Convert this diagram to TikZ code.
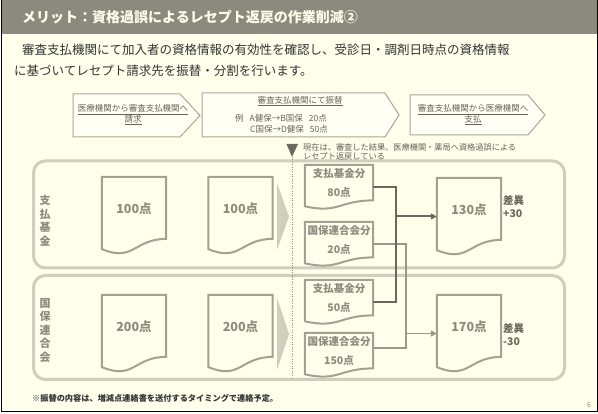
\documentclass[tikz,border=0pt]{standalone}
\usepackage{fontspec}
\setmainfont{Noto Sans CJK JP}
\usetikzlibrary{arrows.meta,calc}
\definecolor{bgcream}{HTML}{FFFFEB}
\definecolor{hdrgray}{HTML}{8C8A7F}
\definecolor{panelln}{HTML}{D0CEBC}
\definecolor{docln}{HTML}{A3A193}
\definecolor{doctxt}{HTML}{8E8B7F}
\definecolor{darkln}{HTML}{6C685E}
\definecolor{lightln}{HTML}{9B988B}
\definecolor{chevln}{HTML}{A9A697}
\definecolor{chevtxt}{HTML}{66635A}
\newcommand{\fsz}[2]{\fontsize{#1}{#2}\selectfont}
\newcommand{\docoutline}[1]{%
  \draw[docln, line width=2pt, fill=bgcream] (#1.north west) -- (#1.north east) -- ($(#1.north east)!0.802!(#1.south east)$)
    .. controls ($(#1.north)!0.802!(#1.south)$) and ($(#1.north)!1.107!(#1.south)$) .. ($(#1.north west)!0.934!(#1.south west)$) -- cycle;}

\begin{document}
\begin{tikzpicture}[x=1pt, y=-1pt, >={Triangle[length=6pt, width=6pt]},
  hdr/.style={font=\fsz{14}{16}\bfseries, text=white!92!yellow, anchor=west, inner sep=0},
  body/.style={font=\fsz{12.5}{15}, text=black!80, anchor=west, inner sep=0},
  chev/.style={draw=chevln, line width=1pt, fill=white!50!bgcream},
  chevtext/.style={font=\fsz{8.5}{10.5}, text=chevtxt, inner sep=0, align=center},
  note/.style={font=\fsz{8.2}{9}, text=chevtxt, anchor=west, inner sep=0},
  bigdoc/.style={minimum width=64pt, minimum height=77pt, inner sep=0},
  smalldoc/.style={minimum width=68pt, minimum height=44pt, inner sep=0},
  bigval/.style={font=\fsz{12.5}{14}\bfseries, text=doctxt, inner sep=0},
  smallval/.style={font=\fsz{10.5}{12}\bfseries, text=doctxt, inner sep=0},
  side/.style={font=\fsz{11}{13.5}\bfseries, text=doctxt, align=center, inner sep=0},
  diff/.style={font=\fsz{10.5}{13}\bfseries, text=darkln, anchor=west, inner sep=0, align=left},
  panel/.style={draw=panelln, line width=3pt, rounded corners=12pt}]
  \useasboundingbox (0,0) rectangle (598,414);
  \fill[white] (0,0) rectangle (598,414);
  \fill[bgcream] (1,0) rectangle (597,412);
  \fill[hdrgray] (1,0) rectangle (597,34);
  \draw[black, line width=1pt] (1,0) -- (1,412) -- (597,412) -- (597,0);
  \node[hdr] (title) at (22,17) {メリット：資格過誤によるレセプト返戻の作業削減②};
  \node[body] (intro1) at (22,50) {審査支払機関にて加入者の資格情報の有効性を確認し、受診日・調剤日時点の資格情報};
  \node[body] (intro2) at (14,71) {に基づいてレセプト請求先を振替・分割を行います。};

  \draw[chev] (73,94) -- (180,94) -- (200,115.5) -- (180,137) -- (73,137) -- cycle;
  \draw[chev] (202,93) -- (385,93) -- (399,115) -- (385,137) -- (202,137) -- cycle;
  \draw[chev] (410,95) -- (528,95) -- (545,115) -- (528,135) -- (410,135) -- cycle;
  \node[chevtext] (claim) at (133,115) {\underline{医療機関から審査支払機関へ}\\\underline{請求}};
  \node[chevtext] (swap) at (300,101) {\underline{審査支払機関にて振替}};
  \node[chevtext, anchor=west] (swap1) at (235,118) {例\hspace{6pt}A健保→B国保\hspace{6pt}20点};
  \node[chevtext, anchor=west] (swap2) at (250,129) {C国保→D健保\hspace{6pt}50点};
  \node[chevtext] (pay) at (473,115) {\underline{審査支払機関から医療機関へ}\\\underline{支払}};

  \draw[panel] (33.5,161) rectangle (564.5,268);
  \draw[panel] (33.5,275.5) rectangle (564.5,379.5);
  \node[side] (kikin) at (45,220.5) {支\\払\\基\\金};
  \node[side] (kokuho) at (45,330.5) {国\\保\\連\\合\\会};
  \fill[panelln] (277,183) -- (289,216.5) -- (277,250) -- cycle;
  \fill[panelln] (277,298) -- (289,334) -- (277,370) -- cycle;

  \fill[darkln] (286.5,144) -- (298,144) -- (292,157) -- cycle;
  \draw[doctxt, dotted] (292,157) -- (292,378);
  \node[note] (now1) at (303,147) {現在は、審査した結果、医療機関・薬局へ資格過誤による};
  \node[note] (now2) at (303,156) {レセプト返戻している};

  \foreach \n/\x/\y/\v in {a1/134/215.5/100, a2/240.5/215.5/100, b1/134/333.5/200, b2/240.5/333.5/200, c1/469/216.5/130, c2/469/333.5/170} {
    \node[bigdoc] (\n) at (\x,\y) {};
    \docoutline{\n}
    \node[bigval] (\n-v) at ($(\n.north)!0.41!(\n.south)$) {{\v}点};
  }
  \foreach \n/\y/\k/\v in {s1/187/支払基金分/80, s2/244/国保連合会分/20, s3/302/支払基金分/50, s4/355/国保連合会分/150} {
    \node[smalldoc] (\n) at (339,\y) {};
    \docoutline{\n}
    \node[smallval] (\n-k) at ($(\n.north)!0.19!(\n.south)$) {{\k}};
    \node[smallval] (\n-v) at ($(\n.north)!0.63!(\n.south)$) {{\v}点};
  }
  \node[diff] (diff1) at (503,206.5) {差異\\+30};
  \node[diff] (diff2) at (503,335) {差異\\-30};

  \coordinate (busA) at (396,0);
  \coordinate (busB) at (406,0);
  \draw[lightln, line width=1.5pt] (s2.east) -- (s2.east -| busB) |- ($(s4.north east)!0.34!(s4.south east)$);
  \draw[lightln, line width=1.5pt, ->] (busB |- c2.west) -- (c2.west);
  \draw[darkln, line width=2pt] (s1.east) -- (s1.east -| busA) |- (s3.east);
  \draw[darkln, line width=2pt, ->] (busA |- c1.west) -- (c1.west);

  \node[font=\fsz{8.2}{9}\bfseries, text=black!80, anchor=west, inner sep=0] (memo) at (32,398) {※振替の内容は、増減点連絡書を送付するタイミングで連絡予定。};
  \node[font=\fsz{7}{8}, text=doctxt, inner sep=0] (pgno) at (589,405) {6};
\end{tikzpicture}
\end{document}
